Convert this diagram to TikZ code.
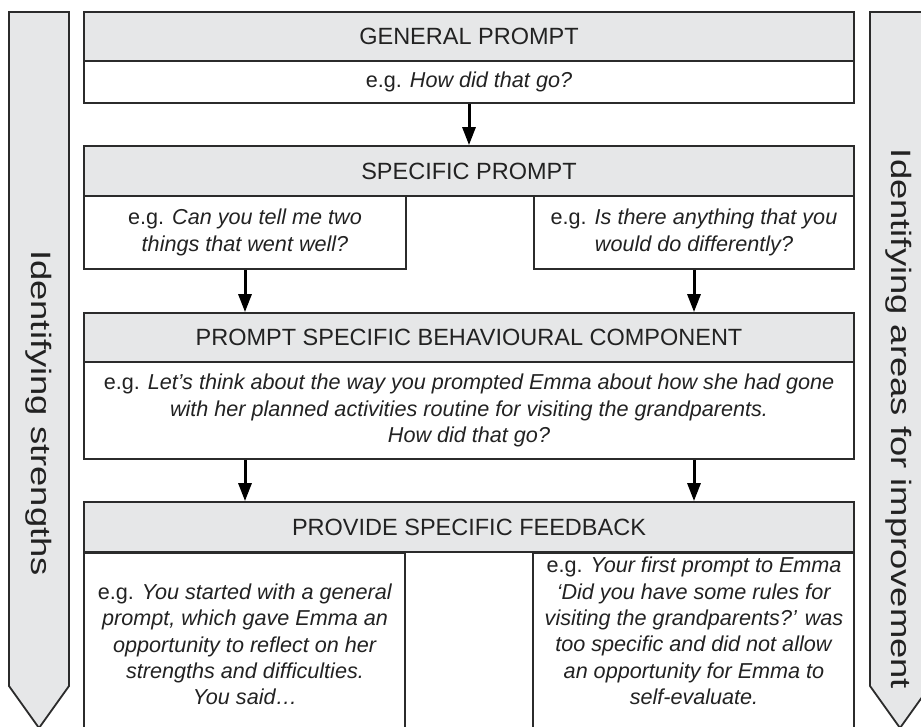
\documentclass[tikz,border=0pt]{standalone}
\usepackage{fontspec}
\setmainfont{Liberation Sans}
\usetikzlibrary{arrows.meta}
\definecolor{boxgray}{HTML}{E6E7E8}
\definecolor{edgegray}{HTML}{2B2B2B}
\definecolor{inkgray}{HTML}{222222}
\newcommand{\widetext}[1]{\scalebox{1.3}[1]{#1}}
\tikzset{
  hdr/.style={draw=edgegray, line width=1.8pt, fill=boxgray, minimum width=770pt, minimum height=49pt, inner sep=0pt, text=inkgray, font=\fontsize{23.5}{28}\selectfont},
  body/.style={draw=edgegray, line width=1.8pt, fill=white, inner sep=0pt, align=center, text=inkgray, font=\fontsize{21.6}{26.5}\selectfont},
  egtext/.style={align=center, inner sep=0pt, text=inkgray, font=\fontsize{21.6}{26.3}\selectfont},
  sidebar/.style={draw=edgegray, line width=1.8pt, fill=boxgray},
  sidetext/.style={rotate=-90, inner sep=0pt, text=inkgray, font=\fontsize{28}{32}\selectfont},
  flow/.style={->, >={Triangle[length=18pt,width=13pt]}, line width=3pt}
}
\begin{document}
\begin{tikzpicture}[x=1pt,y=-1pt]
\useasboundingbox (0,0) rectangle (921,726);
\clip (0,0) rectangle (921,726);
% side arrows
\draw[sidebar] (9,12) -- (69,12) -- (69,686) -- (39,728) -- (9,686) -- cycle;
\node[sidetext] (strengths) at (39,413) {\widetext{Identifying strengths}};
\draw[sidebar] (870,12) -- (930,12) -- (930,686) -- (900,728) -- (870,686) -- cycle;
\node[sidetext] (improvement) at (899,419) {\widetext{Identifying areas for improvement}};
% general prompt
\node[hdr] (general) at (469,36.5) {GENERAL PROMPT};
\node[body, minimum width=770pt, minimum height=42pt] (generalEg) at (469,82) {e.g. \textit{How did that go?}};
% specific prompt
\node[hdr, minimum height=50pt] (specific) at (469,171) {SPECIFIC PROMPT};
\node[body, minimum width=322pt, minimum height=73pt] (wellEg) at (245,232.5) {e.g. \textit{Can you tell me two}\\\textit{things that went well?}};
\node[body, minimum width=320pt, minimum height=73pt] (differentEg) at (694,232.5) {e.g. \textit{Is there anything that you}\\\textit{would do differently?}};
% behavioural component
\node[hdr] (component) at (469,337.5) {PROMPT SPECIFIC BEHAVIOURAL COMPONENT};
\node[body, minimum width=770pt, minimum height=97pt] (componentEg) at (469,410.5) {e.g. \textit{Let’s think about the way you prompted Emma about how she had gone}\\\textit{with her planned activities routine for visiting the grandparents.}\\\textit{How did that go?}};
% feedback
\node[body, minimum width=321pt, minimum height=200pt, anchor=north] (strengthCol) at (244.5,552) {};
\node[body, minimum width=321pt, minimum height=200pt, anchor=north] (improveCol) at (693.5,552) {};
\node[hdr, minimum height=50pt] (feedback) at (469,527) {PROVIDE SPECIFIC FEEDBACK};
\node[egtext] (strengthEg) at (245,644.5) {e.g. \textit{You started with a general}\\\textit{prompt, which gave Emma an}\\\textit{opportunity to reflect on her}\\\textit{strengths and difficulties.}\\\textit{You said…}};
\node[egtext] (improveEg) at (694,631) {e.g. \textit{Your first prompt to Emma}\\\textit{‘Did you have some rules for}\\\textit{visiting the grandparents?’ was}\\\textit{too specific and did not allow}\\\textit{an opportunity for Emma to}\\\textit{self-evaluate.}};
% connectors
\draw[flow] (generalEg.south) -- (specific.north);
\draw[flow] (wellEg.south) -- (wellEg.south |- component.north);
\draw[flow] (differentEg.south) -- (differentEg.south |- component.north);
\draw[flow] (componentEg.south -| wellEg.south) -- (wellEg.south |- feedback.north);
\draw[flow] (componentEg.south -| differentEg.south) -- (differentEg.south |- feedback.north);
\end{tikzpicture}
\end{document}
